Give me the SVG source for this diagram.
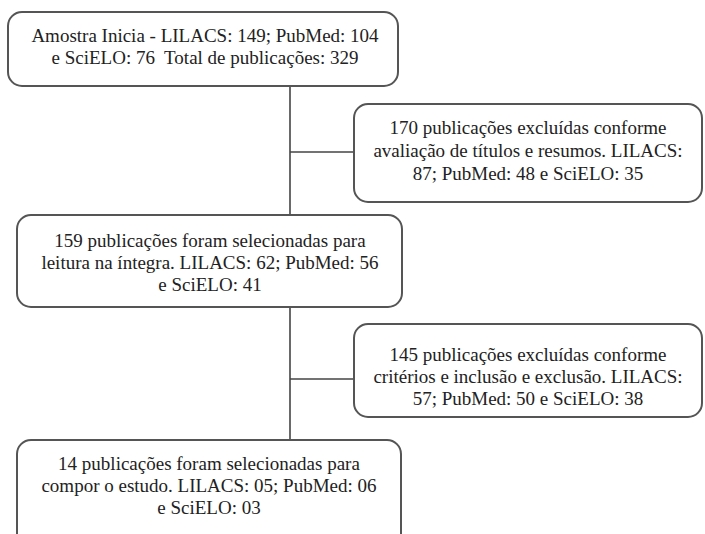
<svg xmlns="http://www.w3.org/2000/svg" width="705" height="534" viewBox="0 0 705 534">
<style>
.box{fill:#fff;stroke:#555;stroke-width:2}
.t{font-size:19px;fill:#222;text-anchor:middle}
.c{stroke:#444;stroke-width:1.6;fill:none}
</style>
<rect width="705" height="534" fill="#fff"/>
<g id="connectors">
<line class="c" x1="290" y1="86" x2="290" y2="215"/>
<line class="c" x1="290" y1="152" x2="354" y2="152"/>
<line class="c" x1="290" y1="307" x2="290" y2="440"/>
<line class="c" x1="290" y1="379" x2="354" y2="379"/>
</g>
<g font-family="Liberation Serif, Times New Roman, serif">
<g id="n1">
<rect class="box" x="8" y="12" width="390" height="74" rx="14"/>
<text class="t" x="205" y="42">Amostra Inicia - LILACS: 149; PubMed: 104</text>
<text class="t" x="205" y="64">e SciELO: 76&#160; Total de publicações: 329</text>
</g>
<g id="n2">
<rect class="box" x="354" y="104" width="348" height="98" rx="14"/>
<text class="t" x="528" y="134">170 publicações excluídas conforme</text>
<text class="t" x="528" y="157">avaliação de títulos e resumos. LILACS:</text>
<text class="t" x="528" y="180">87; PubMed: 48 e SciELO: 35</text>
</g>
<g id="n3">
<rect class="box" x="17" y="215" width="385" height="92" rx="14"/>
<text class="t" x="210" y="247">159 publicações foram selecionadas para</text>
<text class="t" x="210" y="269">leitura na íntegra. LILACS: 62; PubMed: 56</text>
<text class="t" x="210" y="291">e SciELO: 41</text>
</g>
<g id="n4">
<rect class="box" x="354" y="324" width="348" height="93" rx="14"/>
<text class="t" x="528" y="361">145 publicações excluídas conforme</text>
<text class="t" x="528" y="383">critérios e inclusão e exclusão. LILACS:</text>
<text class="t" x="528" y="405">57; PubMed: 50 e SciELO: 38</text>
</g>
<g id="n5">
<rect class="box" x="17" y="440" width="384" height="110" rx="14"/>
<text class="t" x="209" y="470">14 publicações foram selecionadas para</text>
<text class="t" x="209" y="492">compor o estudo. LILACS: 05; PubMed: 06</text>
<text class="t" x="209" y="514">e SciELO: 03</text>
</g>
</g>
</svg>
